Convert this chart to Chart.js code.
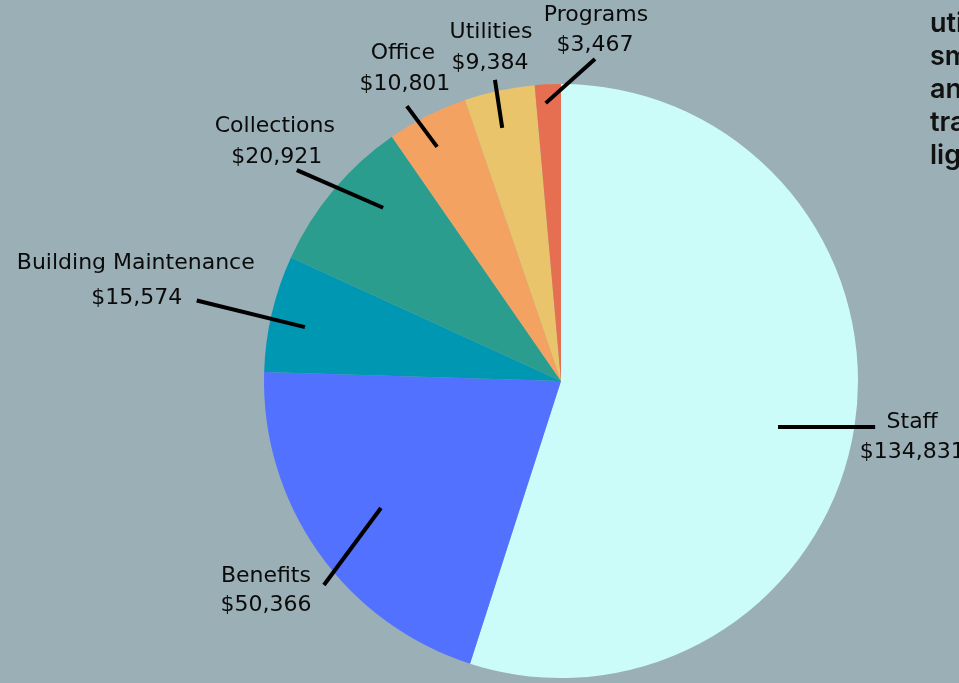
<!DOCTYPE html>
<html>
<head>
<meta charset="utf-8">
<script src="https://cdn.jsdelivr.net/npm/chart.js@4/dist/chart.umd.min.js"></script>
<style>
  html, body { margin: 0; padding: 0; overflow: hidden; background: #9BAFB6; }
  #wrap { position: relative; width: 959px; height: 683px; overflow: hidden; }
  canvas { display: block; }
  #note {
    position: absolute; left: 930px; top: 6px; white-space: nowrap;
    font-family: Inter, "DejaVu Sans", sans-serif; font-weight: 600; font-size: 27px;
    line-height: 33px; color: #111;
  }
</style>
</head>
<body>
<div id="wrap">
  <canvas id="c" width="959" height="683"></canvas>
  <div id="note">utilities,<br>small<br>and<br>travel<br>lights</div>
</div>
<script>
// ---- data ----
const categories = ["Staff", "Benefits", "Building Maintenance", "Collections", "Office", "Utilities", "Programs"];
const amounts = [134831, 50366, 15574, 20921, 10801, 9384, 3467];
const sliceColors = ["#CCFCF9", "#5271FF", "#0097B2", "#2A9D8F", "#F4A261", "#E9C46A", "#E76F51"];

// ---- callout layout (radius fractions of pie radius, angle offsets in degrees from slice middle,
//      text offsets in px from line end) ----
const callouts = [
  { r1: 0.747, a1: 3.05, r2: 1.069, a2: -0.6, t1: [37, -5],  t2: [37, 25] },
  { r1: 0.742, a1: 0.0,  r2: 1.053, a2: -5.5, t1: [-58, -9], t2: [-58, 20] },
  { r1: 0.881, a1: -1.3, r2: 1.256, a2: -0.7, t1: [-61, -37], t2: [-60, -2] },
  { r1: 0.836, a1: 4.3,  r2: 1.138, a2: -1.35, t1: [-22, -44], t2: [-20, -13] },
  { r1: 0.892, a1: -1.1, r2: 1.061, a2: -2.5, t1: [-4, -53], t2: [-2, -22] },
  { r1: 0.875, a1: -1.1, r2: 1.038, a2: -0.4, t1: [-4, -48], t2: [-5, -17] },
  { r1: 0.937, a1: -0.6, r2: 1.090, a2: 8.57, t1: [1, -44],  t2: [0, -14] }
];

const fmt = v => "$" + v.toLocaleString("en-US");

const calloutPlugin = {
  id: "callouts",
  afterDatasetsDraw(chart) {
    const ctx = chart.ctx;
    const meta = chart.getDatasetMeta(0);
    ctx.save();
    meta.data.forEach((arc, i) => {
      const c = callouts[i];
      const mid = (arc.startAngle + arc.endAngle) / 2;
      const R = arc.outerRadius;
      const d2r = Math.PI / 180;
      const ang1 = mid + c.a1 * d2r, ang2 = mid + c.a2 * d2r;
      const x1 = arc.x + c.r1 * R * Math.cos(ang1), y1 = arc.y + c.r1 * R * Math.sin(ang1);
      const x2 = arc.x + c.r2 * R * Math.cos(ang2), y2 = arc.y + c.r2 * R * Math.sin(ang2);
      ctx.strokeStyle = "#000";
      ctx.lineWidth = 4;
      ctx.lineCap = "butt";
      ctx.beginPath();
      ctx.moveTo(x1, y1);
      ctx.lineTo(x2, y2);
      ctx.stroke();
      ctx.fillStyle = "#0a0a0a";
      ctx.font = '22px "DejaVu Sans", sans-serif';
      ctx.textAlign = "center";
      ctx.textBaseline = "middle";
      ctx.fillText(categories[i], x2 + c.t1[0], y2 + c.t1[1]);
      ctx.fillText(fmt(amounts[i]), x2 + c.t2[0], y2 + c.t2[1]);
    });
    ctx.restore();
  }
};

new Chart(document.getElementById("c"), {
  type: "pie",
  data: {
    labels: categories,
    datasets: [{
      data: amounts,
      backgroundColor: sliceColors,
      borderWidth: 0,
      hoverOffset: 0
    }]
  },
  options: {
    responsive: false,
    animation: false,
    layout: { padding: { top: 84, bottom: 5, left: 264, right: 101 } },
    plugins: { legend: { display: false }, tooltip: { enabled: false } }
  },
  plugins: [calloutPlugin]
});
</script>
</body>
</html>
